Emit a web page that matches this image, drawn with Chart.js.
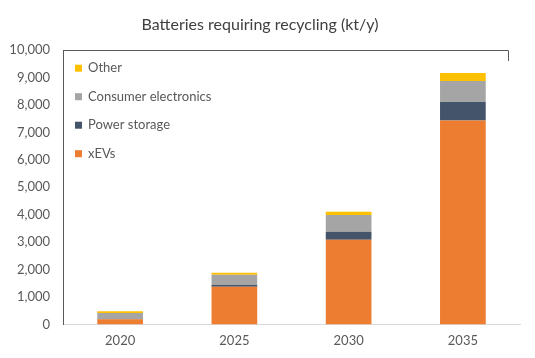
<!DOCTYPE html>
<html>
<head>
<meta charset="utf-8">
<script src="https://cdn.jsdelivr.net/npm/chart.js@4/dist/chart.umd.min.js"></script>
<style>
html,body{margin:0;padding:0;background:#fff;}
#wrap{width:535px;height:358px;}
</style>
</head>
<body>
<div id="wrap"><canvas id="c" width="535" height="358"></canvas></div>
<script>
const categories = ["2020", "2025", "2030", "2035"];
const xEVs = [190, 1370, 3090, 7440];
const powerStorage = [10, 70, 290, 670];
const consumerElectronics = [220, 370, 610, 770];
const other = [60, 70, 120, 290];
const yTicks = [0, 1000, 2000, 3000, 4000, 5000, 6000, 7000, 8000, 9000, 10000];

const FONT = "Lato, 'Liberation Sans', sans-serif";
const TXT = '#595959';

const legendPlugin = {
  id: 'insideLegend',
  afterDraw(chart) {
    const ctx = chart.ctx;
    const area = chart.chartArea;
    const ds = chart.data.datasets.slice().reverse();
    ctx.save();
    // thin frame line at the top of the plot (as in the reference)
    ctx.strokeStyle = '#595959';
    ctx.lineWidth = 1;
    ctx.beginPath();
    ctx.moveTo(Math.round(area.left) + 0.5, Math.round(area.top) + 0.5);
    ctx.lineTo(508.5, Math.round(area.top) + 0.5);
    ctx.lineTo(508.5, Math.round(area.top) + 11);
    ctx.stroke();

    ctx.font = "13px " + FONT;
    ctx.textBaseline = 'middle';
    ctx.textAlign = 'left';
    ds.forEach((d, i) => {
      const y = area.top + 18 + i * 28.5;
      const x = area.left + 12;
      ctx.fillStyle = d.backgroundColor;
      ctx.fillRect(x, y - 3.5, 7, 7);
      ctx.fillStyle = TXT;
      ctx.fillText(d.label, x + 13, y);
    });
    ctx.restore();
  }
};

new Chart(document.getElementById('c'), {
  type: 'bar',
  data: {
    labels: categories,
    datasets: [
      { label: 'xEVs', data: xEVs, backgroundColor: '#ED7D31' },
      { label: 'Power storage', data: powerStorage, backgroundColor: '#44546A' },
      { label: 'Consumer electronics', data: consumerElectronics, backgroundColor: '#A5A5A5' },
      { label: 'Other', data: other, backgroundColor: '#FFC000' }
    ]
  },
  options: {
    responsive: false,
    animation: false,
    devicePixelRatio: 1,
    layout: { padding: { left: 0, right: 15, top: 0, bottom: 0 } },
    datasets: { bar: { barPercentage: 0.8, categoryPercentage: 0.5 } },
    plugins: {
      legend: { display: false },
      tooltip: { enabled: false },
      title: {
        display: true,
        text: 'Batteries requiring recycling (kt/y)',
        color: '#404040',
        font: { family: FONT, size: 16, weight: 'normal' },
        padding: { top: 15, bottom: 16 }
      }
    },
    scales: {
      x: {
        stacked: true,
        grid: { display: false, drawTicks: false },
        border: { display: true, color: '#D9D9D9', width: 1 },
        ticks: { color: TXT, font: { family: FONT, size: 13 }, padding: 9 }
      },
      y: {
        stacked: true,
        min: 0,
        max: 10000,
        afterBuildTicks(scale) { scale.ticks = yTicks.map(v => ({ value: v })); },
        afterFit(scale) { scale.width = 63; },
        grid: { display: false, drawTicks: false },
        border: { display: true, color: '#595959', width: 1 },
        ticks: {
          color: TXT,
          font: { family: FONT, size: 13 },
          padding: 13,
          callback: v => v.toLocaleString('en-US')
        }
      }
    }
  },
  plugins: [legendPlugin]
});
</script>
</body>
</html>
